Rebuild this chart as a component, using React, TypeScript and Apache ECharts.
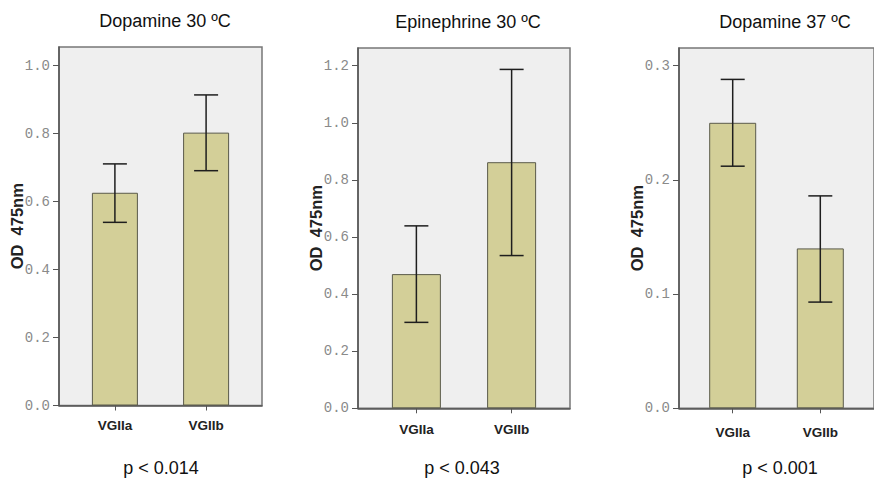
import React, { useEffect, useRef } from "react";
import * as echarts from "echarts";

// ---- data ----
const categories = ["VGIIa", "VGIIb"];
const titles = ["Dopamine 30 \u00baC", "Epinephrine 30 \u00baC", "Dopamine 37 \u00baC"];
const pValues = ["p < 0.014", "p < 0.043", "p < 0.001"];

const dopa30Mean = [0.626, 0.803];
const dopa30Low = [0.539, 0.691];
const dopa30High = [0.711, 0.914];

const epi30Mean = [0.47, 0.862];
const epi30Low = [0.301, 0.535];
const epi30High = [0.639, 1.187];

const dopa37Mean = [0.25, 0.14];
const dopa37Low = [0.212, 0.093];
const dopa37High = [0.288, 0.186];

const yTicks1 = [0, 0.2, 0.4, 0.6, 0.8, 1.0];
const yTicks2 = [0, 0.2, 0.4, 0.6, 0.8, 1.0, 1.2];
const yTicks3 = [0, 0.1, 0.2, 0.3];
const yMax = [1.055, 1.262, 0.3155];

const panels = [
  { mean: dopa30Mean, low: dopa30Low, high: dopa30High, ticks: yTicks1 },
  { mean: epi30Mean, low: epi30Low, high: epi30High, ticks: yTicks2 },
  { mean: dopa37Mean, low: dopa37Low, high: dopa37High, ticks: yTicks3 },
];

// ---- layout ----
const grids = [
  { left: 59, top: 47, width: 203, height: 358.5 },
  { left: 358, top: 48, width: 212, height: 360.3 },
  { left: 679, top: 48, width: 203, height: 360.3 },
];
const barWidths = [46, 49, 47];
const labelMargins = [13, 14, 17];
const titlePos = [
  [165, 21],
  [468, 22],
  [785, 22],
];
const pPos = [
  [161, 468],
  [462, 468],
  [780, 468],
];

const BAR_COLOR = "#d3cf98";
const BAR_BORDER = "#5a5a4a";
const ERR_COLOR = "#1e1e1e";

export default function App() {
  const ref = useRef<HTMLDivElement>(null);

  useEffect(() => {
    if (!ref.current) return;
    const chart = echarts.init(ref.current, undefined, { renderer: "svg" });

    const xAxis: any[] = [];
    const yAxis: any[] = [];
    const series: any[] = [];
    const graphic: any[] = [];

    panels.forEach((p, i) => {
      xAxis.push({
        type: "value",
        gridIndex: i,
        min: -0.613,
        max: 1.613,
        splitLine: { show: false },
        axisLine: { show: true, onZero: false, lineStyle: { color: "#555", width: 1.5 } },
        axisTick: {
          show: true,
          customValues: [0, 1],
          length: 5,
          lineStyle: { color: "#555", width: 1 },
        },
        axisLabel: {
          customValues: [0, 1],
          formatter: (v: number) => categories[Math.round(v)] ?? "",
          fontFamily: "Liberation Sans, Arial, sans-serif",
          fontWeight: "bold",
          fontSize: 13.5,
          color: "#222",
          margin: labelMargins[i],
        },
      });
      yAxis.push({
        type: "value",
        gridIndex: i,
        min: 0,
        max: yMax[i],
        name: "OD  475nm",
        nameLocation: "middle",
        nameGap: 34,
        nameMoveOverlap: false,
        nameTextStyle: {
          fontFamily: "Liberation Sans, Arial, sans-serif",
          fontWeight: "bold",
          fontSize: 16.5,
          color: "#222",
        },
        splitLine: { show: false },
        axisLine: { show: true, onZero: false, lineStyle: { color: "#555", width: 1.5 } },
        axisTick: {
          show: true,
          customValues: p.ticks,
          length: 6,
          lineStyle: { color: "#555", width: 1 },
        },
        axisLabel: {
          customValues: p.ticks,
          formatter: (v: number) => v.toFixed(1),
          fontFamily: "Liberation Mono, Courier New, monospace",
          fontSize: 14,
          color: "#8a8a8a",
          margin: 9,
        },
      });
      series.push({
        type: "bar",
        xAxisIndex: i,
        yAxisIndex: i,
        barWidth: barWidths[i],
        data: p.mean.map((v, k) => [k, v]),
        itemStyle: { color: BAR_COLOR, borderColor: BAR_BORDER, borderWidth: 1 },
        silent: true,
      });
      series.push({
        type: "custom",
        xAxisIndex: i,
        yAxisIndex: i,
        data: p.mean.map((_, k) => [k, p.low[k], p.high[k]]),
        z: 10,
        renderItem: (params: any, api: any) => {
          const x = api.value(0);
          const lo = api.coord([x, api.value(1)]);
          const hi = api.coord([x, api.value(2)]);
          const cap = 12;
          const style = { stroke: ERR_COLOR, lineWidth: 1.5 };
          return {
            type: "group",
            children: [
              { type: "line", shape: { x1: lo[0], y1: lo[1], x2: hi[0], y2: hi[1] }, style },
              { type: "line", shape: { x1: hi[0] - cap, y1: hi[1], x2: hi[0] + cap, y2: hi[1] }, style },
              { type: "line", shape: { x1: lo[0] - cap, y1: lo[1], x2: lo[0] + cap, y2: lo[1] }, style },
            ],
          };
        },
      });
      graphic.push({
        type: "text",
        x: titlePos[i][0],
        y: titlePos[i][1],
        style: {
          text: titles[i],
          fontFamily: "Liberation Sans, Arial, sans-serif",
          fontSize: 18,
          fill: "#111",
          align: "center",
          verticalAlign: "middle",
        },
      });
      graphic.push({
        type: "text",
        x: pPos[i][0],
        y: pPos[i][1],
        style: {
          text: pValues[i],
          fontFamily: "Liberation Sans, Arial, sans-serif",
          fontSize: 18,
          fill: "#111",
          align: "center",
          verticalAlign: "middle",
        },
      });
    });

    chart.setOption({
      animation: false,
      backgroundColor: "#ffffff",
      grid: grids.map((g) => ({
        ...g,
        show: true,
        backgroundColor: "#efefef",
        borderColor: "#777",
        borderWidth: 1.5,
        containLabel: false,
      })),
      xAxis,
      yAxis,
      series,
      graphic,
    });

    return () => chart.dispose();
  }, []);

  return (
    <div
      ref={ref}
      style={{ position: "fixed", left: 0, top: 0, width: 874, height: 491 }}
    />
  );
}
